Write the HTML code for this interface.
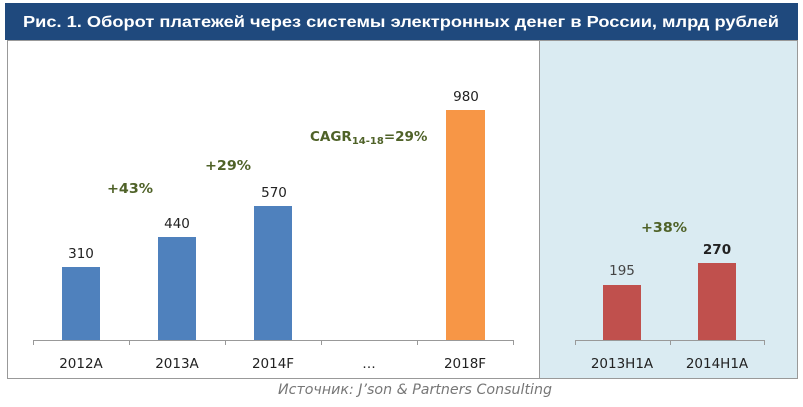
<!DOCTYPE html>
<html><head><meta charset="utf-8"><style>
body{margin:0;width:803px;height:407px;background:#fff;overflow:hidden}
svg{display:block}
</style></head><body>
<svg width="803" height="407" xmlns="http://www.w3.org/2000/svg" font-family="'DejaVu Sans','Liberation Sans',sans-serif">
<rect x="0" y="0" width="803" height="407" fill="#fff"/>
<rect x="540" y="40" width="258" height="339" fill="#daebf2"/>
<rect x="7.5" y="40.5" width="790" height="338" fill="none" stroke="#999" stroke-width="1"/>
<line x1="539.5" y1="40" x2="539.5" y2="379" stroke="#999"/>
<rect x="5" y="3" width="793" height="37" fill="#1f497d"/>
<text x="401" y="27" font-size="16" font-weight="bold" fill="#fff" text-anchor="middle" font-family="'Liberation Sans',sans-serif" textLength="756" lengthAdjust="spacingAndGlyphs">Рис. 1. Оборот платежей через системы электронных денег в России, млрд рублей</text>
<g stroke="#999" stroke-width="1">
<line x1="33" y1="340.5" x2="513" y2="340.5"/>
<line x1="33.5" y1="340" x2="33.5" y2="345"/><line x1="129.5" y1="340" x2="129.5" y2="345"/><line x1="225.5" y1="340" x2="225.5" y2="345"/><line x1="321.5" y1="340" x2="321.5" y2="345"/><line x1="417.5" y1="340" x2="417.5" y2="345"/><line x1="513.5" y1="340" x2="513.5" y2="345"/>
<line x1="575" y1="340.5" x2="765" y2="340.5"/>
<line x1="575.5" y1="340" x2="575.5" y2="345"/><line x1="670.5" y1="340" x2="670.5" y2="345"/><line x1="764.5" y1="340" x2="764.5" y2="345"/>
</g>
<rect x="62" y="267" width="38" height="73" fill="#4f81bd"/>
<rect x="158" y="237" width="38" height="103" fill="#4f81bd"/>
<rect x="254" y="206" width="38" height="134" fill="#4f81bd"/>
<rect x="446" y="110" width="39" height="230" fill="#f79646"/>
<rect x="603" y="285" width="38" height="55" fill="#c0504d"/>
<rect x="698" y="263" width="38" height="77" fill="#c0504d"/>
<g font-size="13.5" fill="#222" text-anchor="middle">
<text x="81" y="258">310</text><text x="177" y="228">440</text><text x="274" y="197">570</text><text x="466" y="101">980</text>
<text x="622" y="275" fill="#444">195</text><text x="717" y="254" font-weight="bold">270</text>
<text x="81" y="368">2012A</text><text x="177" y="368">2013A</text><text x="273" y="368">2014F</text><text x="369" y="368">…</text><text x="465" y="368">2018F</text>
<text x="622" y="368">2013H1A</text><text x="717" y="368">2014H1A</text>
</g>
<g font-size="13.5" font-weight="bold" fill="#4f6228">
<text x="107" y="193" textLength="46" lengthAdjust="spacingAndGlyphs">+43%</text><text x="205" y="170" textLength="46" lengthAdjust="spacingAndGlyphs">+29%</text>
<text x="310" y="141">CAGR<tspan font-size="10" dy="3">14-18</tspan><tspan dy="-3">=29%</tspan></text>
<text x="641" y="232" textLength="46" lengthAdjust="spacingAndGlyphs">+38%</text>
</g>
<text x="415" y="394" font-size="14" font-style="italic" fill="#777" text-anchor="middle" textLength="274" lengthAdjust="spacingAndGlyphs">Источник: J’son &amp; Partners Consulting</text>
</svg>
</body></html>
